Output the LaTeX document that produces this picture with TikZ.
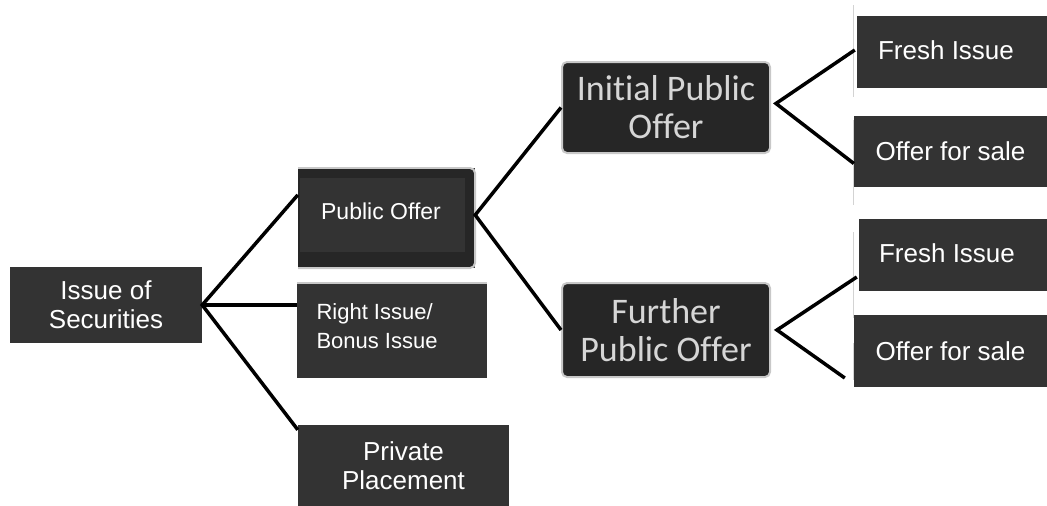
\documentclass[tikz,border=0pt]{standalone}
\usepackage{fontspec}
\setmainfont{Liberation Sans}
\newfontfamily\calfont[Ligatures={NoCommon}]{Carlito}
\usetikzlibrary{calc}
\definecolor{boxdark}{HTML}{333333}
\definecolor{boxdeep}{HTML}{262626}
\definecolor{rimgray}{HTML}{C8C8C8}
\definecolor{txtgray}{HTML}{D6D6D6}
\tikzset{
  flat/.style={fill=boxdark, text=white, inner sep=0pt, align=center, font=\fontsize{26}{29}\selectfont},
  round/.style={fill=boxdeep, draw=rimgray, line width=2pt, rounded corners=5pt, text=txtgray, inner sep=0pt, align=center, font=\calfont\fontsize{36}{38}\selectfont},
  link/.style={line width=3.5pt, black},
  faint/.style={draw=rimgray!80, line width=0.8pt}
}
\begin{document}
\begin{tikzpicture}[x=1pt, y=-1pt]
\useasboundingbox (0,0) rectangle (1047,506);
% level 0
\node[flat, minimum width=192pt, minimum height=76pt] (is) at (106,305) {Issue of\\Securities};
% level 1
\node[fill=boxdeep, inner sep=0pt, minimum width=177pt, minimum height=100pt] (po) at (386.5,218) {};
\draw[rimgray, line width=2pt, rounded corners=5pt, fill=boxdeep] (298,168) -- (475,168) -- (475,268) -- (298,268);
\fill[boxdeep] (298,169) rectangle (470,267);
\fill[boxdark] (300,178) rectangle (465,252);
\node[text=white, font=\fontsize{23}{26}\selectfont] (pot) at (381,211) {Public Offer};
\node[flat, minimum width=190pt, minimum height=95pt] (ri) at (392,330.5) {};
\draw[rimgray, line width=1.5pt] (ri.north west) -- (ri.north east);
\node[text=white, align=left, anchor=west, font=\fontsize{22}{29}\selectfont] (rit) at (313,326) {Right Issue/\\Bonus Issue};
\node[flat, minimum width=211pt, minimum height=81pt] (pp) at (403.5,465.5) {Private\\Placement};
% level 2
\node[round, minimum width=208pt, minimum height=91pt] (ipo) at (666,107.5) {Initial Public\\Offer};
\node[round, minimum width=208pt, minimum height=94pt] (fpo) at (666,330) {Further\\Public Offer};
% level 3
\node[flat, minimum width=190pt, minimum height=72pt, text depth=4pt] (f1) at (952,52) {Fresh Issue\hspace{12pt}};
\node[flat, minimum width=193pt, minimum height=71pt] (o1) at (950.5,151.5) {Offer for sale};
\node[flat, minimum width=188pt, minimum height=72pt, text depth=4pt] (f2) at (953,255) {Fresh Issue\hspace{12pt}};
\node[flat, minimum width=193pt, minimum height=72pt] (o2) at (950.5,351) {Offer for sale};
% faint rules
\draw[faint] (853,5) -- (853,97);
\draw[faint] (853,120) -- (853,205);
\draw[faint] (853,232) -- (853,318);
\draw[faint] (853,343) -- (853,380);
% connectors
\draw[link, line join=miter] ($(pp.north west)+(0,5)$) -- (is.east) -- ($(po.north west)!0.27!(po.south west)$);
\draw[link] (is.east) -- (ri.west |- is.east);
\draw[link] ($(ipo.west)$) -- ($(po.east)+(0,-3)$) -- (fpo.west);
\draw[link] ($(f1.west)+(-2,-2)$) -- ($(ipo.east)+(5,-4)$) -- ($(o1.west)+(0,12)$);
\draw[link] ($(f2.west)+(-2,22)$) -- ($(fpo.east)+(6,0)$) -- ($(o2.west)+(-9,27)$);
\end{tikzpicture}
\end{document}
